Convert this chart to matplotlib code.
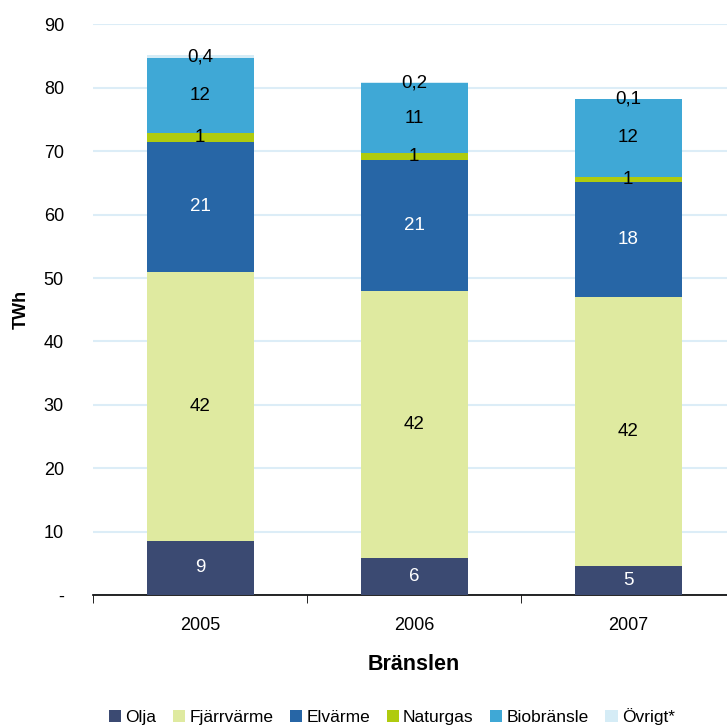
import numpy as np
import matplotlib.pyplot as plt

plt.rcParams['font.family'] = ['Liberation Sans', 'DejaVu Sans']

years = ['2005', '2006', '2007']
series = ['Olja', 'Fjärrvärme', 'Elvärme', 'Naturgas', 'Biobränsle', 'Övrigt*']
olja = [8.6, 5.9, 4.6]
fjarrvarme = [42.3, 42.1, 42.4]
elvarme = [20.6, 20.6, 18.2]
naturgas = [1.4, 1.1, 0.8]
biobransle = [11.8, 11.0, 12.2]
ovrigt = [0.4, 0.2, 0.1]

colors = ['#3b4a72', '#dfeaa0', '#2766a6', '#afcb0e', '#3fa8d6', '#d5ecf6']
label_colors = ['white', 'black', 'white', 'black', 'black', 'black']
decimals = [0, 0, 0, 0, 0, 1]


def fmt(v, d):
    if d:
        return ('%.*f' % (d, v)).replace('.', ',')
    return '%d' % int(v + 0.5)


fig = plt.figure(figsize=(7.27, 7.26), dpi=100)
ax = fig.add_axes([0.128, 0.1804, 0.883, 0.786])

x = np.arange(len(years))
bottom = np.zeros(len(years))
for name, vals, c, lc, d in zip(series, [olja, fjarrvarme, elvarme, naturgas, biobransle, ovrigt],
                                colors, label_colors, decimals):
    vals = np.array(vals)
    ax.bar(x, vals, 0.5, bottom=bottom, color=c, label=name, zorder=3)
    for xi, b, v in zip(x, bottom, vals):
        ax.text(xi, b + v / 2, fmt(v, d), ha='center', va='center',
                color=lc, fontsize=13.5, zorder=4)
    bottom += vals

ax.set_xlim(-0.5, 2.5)
ax.set_ylim(0, 90)
ax.set_yticks(np.arange(0, 91, 10))
ax.set_yticklabels(['-'] + [str(v) for v in range(10, 91, 10)], fontsize=13)
ax.yaxis.grid(True, color='#dcedf7', linewidth=1.5, zorder=0)
ax.tick_params(axis='y', length=0, pad=21)

ax.set_xticks(x)
ax.set_xticklabels(years, fontsize=13)
ax.set_xticks([-0.5, 0.5, 1.5, 2.5], minor=True)
ax.tick_params(axis='x', which='major', length=0, pad=16)
ax.tick_params(axis='x', which='minor', length=6, direction='out', color='black')

for s in ['left', 'right', 'top']:
    ax.spines[s].set_visible(False)
ax.spines['bottom'].set_color('black')
ax.spines['bottom'].set_linewidth(1.2)

ax.set_xlabel('Bränslen', fontsize=15.5, fontweight='bold', labelpad=14)
ax.set_ylabel('TWh', fontsize=13, fontweight='bold', labelpad=10)

fig.legend(loc='center', bbox_to_anchor=(0.539, 0.013), ncol=6, frameon=False,
           fontsize=12.5, handlelength=0.7, handleheight=0.7, handletextpad=0.25,
           columnspacing=0.95, borderaxespad=0)

fig.savefig('out.png', dpi=100)
